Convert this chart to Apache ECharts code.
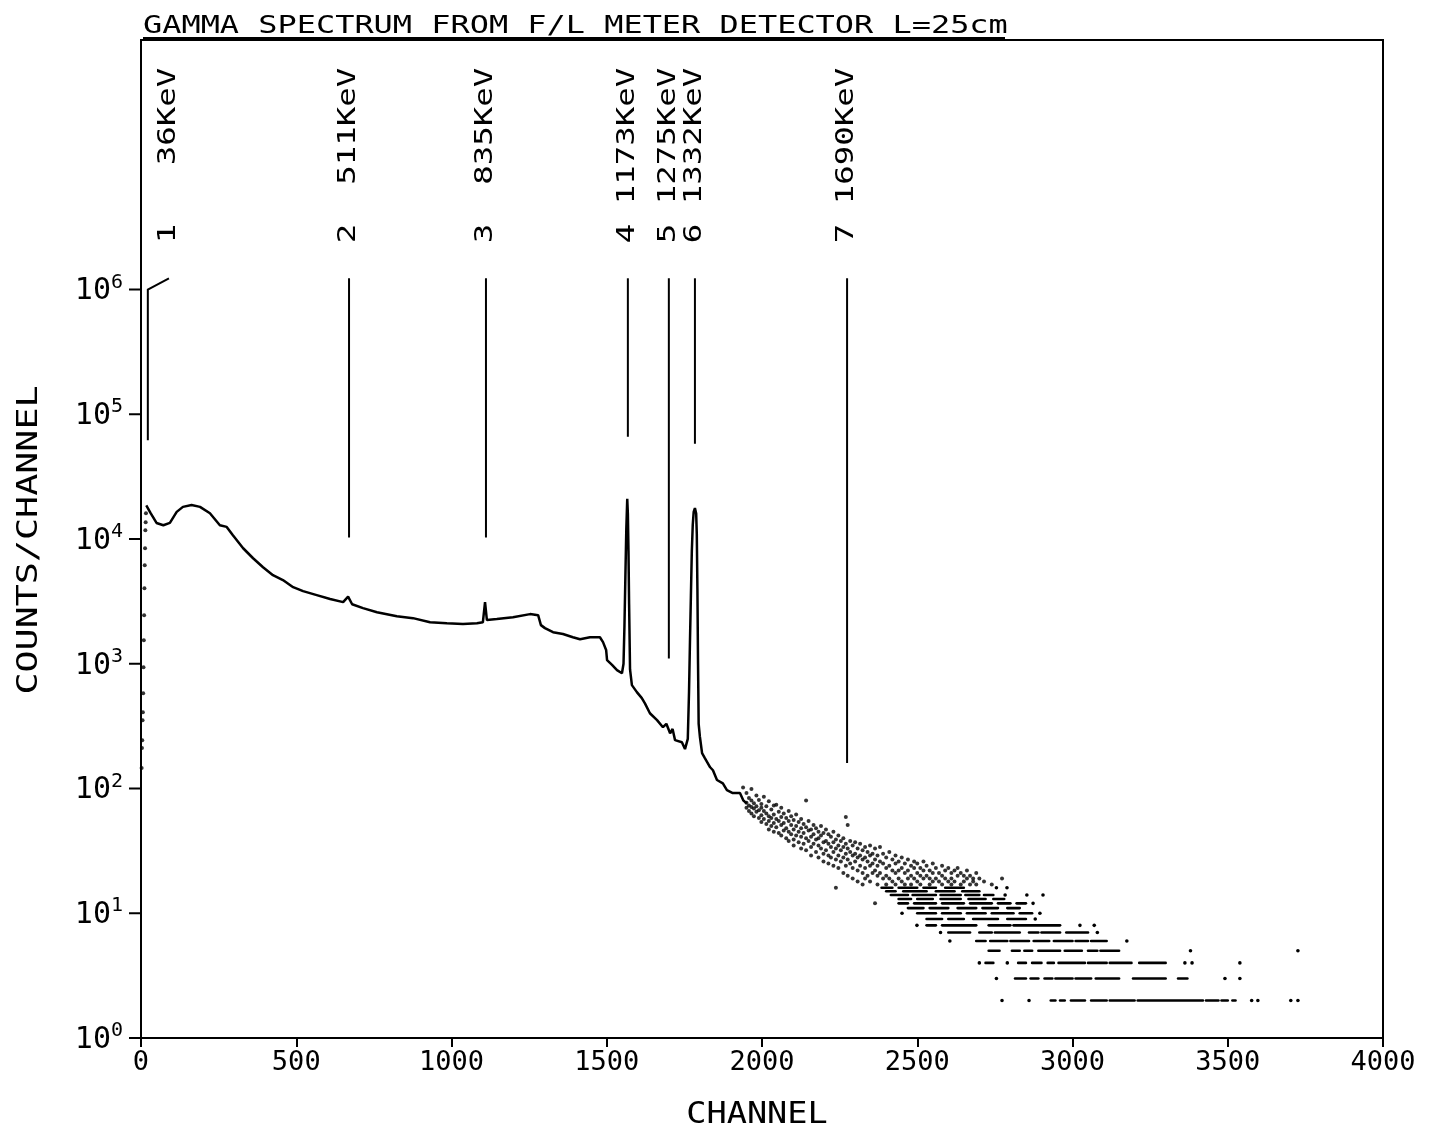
<!DOCTYPE html>
<html>
<head>
<meta charset="utf-8">
<title>Gamma spectrum</title>
<script src="https://cdn.jsdelivr.net/npm/echarts@6.0.0/dist/echarts.min.js"></script>
<style>
  html, body { margin: 0; padding: 0; background: #fff; }
  #chart { width: 1433px; height: 1145px; }
</style>
</head>
<body>
<div id="chart"></div>
<script>
// continuous part of the spectrum (channel, counts)
const curveChannels = [17, 31, 50, 72, 93, 115, 135, 163, 190, 222, 254, 276, 296, 329, 361, 393, 425, 457, 490, 522,
  566, 609, 651, 667, 680, 715, 760, 824, 876, 931, 985, 1037, 1082, 1101, 1108, 1114, 1146, 1198, 1253, 1279,
  1288, 1301, 1327, 1359, 1391, 1414, 1446, 1478, 1488, 1498, 1501, 1517, 1533, 1549, 1554, 1557, 1560, 1563, 1566, 1568,
  1570, 1572, 1575, 1581, 1597, 1613, 1623, 1639, 1662, 1681, 1692, 1704, 1712, 1720, 1742, 1752, 1761, 1765, 1768, 1771,
  1774, 1777, 1780, 1784, 1788, 1790, 1792, 1794, 1796, 1800, 1807, 1816, 1833, 1842, 1855, 1874, 1887, 1906, 1929, 1940, 1951];
const curveCounts = [18600, 16100, 13450, 12900, 13450, 16500, 18100, 18700, 18100, 16100, 12900, 12500, 10700, 8430, 7010, 5940, 5130, 4690, 4110, 3820,
  3550, 3300, 3120, 3450, 3000, 2790, 2590, 2400, 2320, 2150, 2110, 2080, 2110, 2150, 3120, 2240, 2280, 2360, 2500, 2450,
  2040, 1930, 1790, 1730, 1630, 1570, 1630, 1630, 1490, 1290, 1070, 980, 889, 840, 1000, 2000, 5000, 12000, 21000, 16000,
  8000, 3000, 900, 674, 592, 530, 481, 401, 353, 310, 330, 277, 300, 244, 235, 207, 250, 600, 1500, 3500,
  8000, 13000, 16500, 17700, 16000, 11000, 4000, 1000, 330, 260, 192, 175, 148, 140, 117, 110, 97, 92, 92, 80, 76];

// first channels, plotted as separate dots along the axis
const lowChannels = [2, 3, 4, 5, 6, 7, 8, 9, 10, 11, 12, 13, 14, 15, 16];
const lowCounts = [146, 211, 244, 353, 409, 581, 939, 1545, 2450, 4030, 6170, 8430, 11750, 13650, 16100];

// scattered tail, upper band (channel, counts)
const tailDots = [
  [1939, 102], [1950, 92], [1950, 77], [1950, 70], [1958, 84], [1958, 73], [1958, 66], [1966, 99], [1966, 80], [1966, 71],
  [1966, 63], [1974, 76], [1974, 69], [1974, 60], [1982, 88], [1982, 72], [1982, 65], [1990, 81], [1990, 67], [1990, 58],
  [1998, 75], [1998, 70], [1998, 61], [1998, 54], [2006, 86], [2006, 66], [2006, 57], [2014, 72], [2014, 63], [2014, 52],
  [2022, 79], [2022, 60], [2022, 55], [2022, 47], [2030, 68], [2030, 58], [2030, 50], [2038, 73], [2038, 62], [2038, 53],
  [2038, 45], [2046, 74], [2046, 57], [2046, 49], [2054, 65], [2054, 55], [2054, 44], [2062, 70], [2062, 59], [2062, 51],
  [2062, 42], [2070, 63], [2070, 53], [2070, 46], [2078, 58], [2078, 48], [2078, 40], [2086, 66], [2086, 55], [2086, 45],
  [2086, 38], [2094, 60], [2094, 51], [2094, 43], [2102, 56], [2102, 47], [2102, 39], [2102, 35], [2110, 62], [2110, 50],
  [2110, 42], [2118, 54], [2118, 45], [2118, 37], [2126, 57], [2126, 48], [2126, 41], [2126, 33], [2134, 52], [2134, 44],
  [2134, 36], [2142, 80], [2142, 49], [2142, 40], [2142, 32], [2150, 55], [2150, 46], [2150, 38], [2158, 47], [2158, 41],
  [2158, 34], [2158, 29], [2166, 51], [2166, 43], [2166, 36], [2174, 48], [2174, 39], [2174, 31], [2182, 45], [2182, 40],
  [2182, 35], [2182, 28], [2190, 50], [2190, 42], [2190, 33], [2198, 44], [2198, 37], [2198, 30], [2198, 26], [2206, 47],
  [2206, 38], [2206, 32], [2214, 43], [2214, 36], [2214, 29], [2214, 25], [2222, 41], [2222, 34], [2222, 28], [2230, 45],
  [2230, 37], [2230, 31], [2230, 24], [2238, 39], [2238, 33], [2238, 27], [2238, 16], [2246, 42], [2246, 35], [2246, 29],
  [2246, 23], [2254, 38], [2254, 32], [2254, 26], [2262, 40], [2262, 34], [2262, 28], [2262, 21], [2270, 59], [2270, 36],
  [2270, 30], [2270, 24], [2276, 51], [2276, 33], [2276, 27], [2276, 20], [2284, 38], [2284, 31], [2284, 25], [2292, 35],
  [2292, 29], [2292, 23], [2292, 19], [2300, 37], [2300, 30], [2300, 26], [2308, 33], [2308, 28], [2308, 22], [2308, 18],
  [2316, 36], [2316, 29], [2316, 24], [2324, 32], [2324, 27], [2324, 21], [2324, 17], [2332, 34], [2332, 28], [2332, 23],
  [2332, 19], [2340, 31], [2340, 26], [2340, 20], [2348, 35], [2348, 29], [2348, 24], [2348, 18], [2356, 30], [2356, 25],
  [2356, 21], [2364, 33], [2364, 27], [2364, 22], [2364, 12], [2372, 29], [2372, 24], [2372, 20], [2372, 17], [2380, 34],
  [2380, 26], [2380, 21], [2390, 30], [2390, 25], [2390, 19], [2400, 28], [2400, 23], [2400, 20], [2400, 17], [2410, 31],
  [2410, 24], [2410, 19], [2420, 27], [2420, 22], [2420, 18], [2430, 29], [2430, 25], [2430, 21], [2430, 17], [2440, 26],
  [2440, 22], [2440, 19], [2450, 28], [2450, 23], [2450, 18], [2460, 25], [2460, 21], [2460, 17], [2470, 27], [2470, 22],
  [2470, 19], [2480, 24], [2480, 20], [2480, 17], [2490, 26], [2490, 23], [2490, 19], [2500, 25], [2500, 21], [2500, 18],
  [2510, 23], [2510, 20], [2510, 17], [2520, 26], [2520, 22], [2520, 19], [2530, 24], [2530, 20], [2540, 22], [2540, 19],
  [2540, 17], [2550, 25], [2550, 21], [2550, 18], [2560, 23], [2560, 19], [2570, 21], [2570, 18], [2580, 24], [2580, 20],
  [2580, 17], [2590, 22], [2590, 19], [2600, 23], [2600, 18], [2610, 21], [2610, 19], [2610, 17], [2620, 22], [2620, 18],
  [2630, 23], [2630, 20], [2640, 21], [2640, 17], [2650, 20], [2650, 18], [2660, 22], [2660, 19], [2670, 20], [2670, 17],
  [2680, 19], [2680, 18], [2690, 21], [2690, 17], [2700, 19], [2715, 18], [2740, 17], [2773, 19]
];

// scattered tail, low counts: runs of channels sharing one count [first channel, last channel, counts]
const tailRuns = [
  [2385, 2420, 16], [2440, 2500, 16], [2520, 2560, 16], [2590, 2650, 16], [2755, 2755, 16], [2789, 2789, 16],
  [2400, 2430, 15], [2455, 2530, 15], [2560, 2620, 15], [2645, 2700, 15],
  [2415, 2470, 14], [2485, 2560, 14], [2575, 2640, 14], [2655, 2700, 14], [2715, 2745, 14], [2783, 2783, 14], [2853, 2853, 14], [2905, 2905, 14],
  [2440, 2480, 13], [2500, 2550, 13], [2575, 2640, 13], [2665, 2720, 13], [2745, 2780, 13],
  [2440, 2470, 12], [2490, 2560, 12], [2580, 2650, 12], [2670, 2740, 12], [2760, 2800, 12], [2820, 2850, 12], [2873, 2873, 12],
  [2470, 2520, 11], [2540, 2600, 11], [2630, 2690, 11], [2710, 2760, 11], [2790, 2830, 11],
  [2451, 2451, 10], [2500, 2560, 10], [2580, 2640, 10], [2660, 2720, 10], [2740, 2810, 10], [2830, 2870, 10], [2895, 2895, 10],
  [2530, 2580, 9], [2600, 2650, 9], [2680, 2760, 9], [2790, 2850, 9], [2880, 2880, 9],
  [2499, 2499, 8], [2530, 2560, 8], [2580, 2690, 8], [2730, 2800, 8], [2810, 2960, 8], [3024, 3024, 8], [3070, 3070, 8],
  [2575, 2575, 7], [2600, 2670, 7], [2700, 2740, 7], [2750, 2830, 7], [2860, 2890, 7], [2900, 2960, 7], [2980, 3050, 7], [3080, 3080, 7],
  [2605, 2605, 6], [2690, 2720, 6], [2735, 2790, 6], [2800, 2860, 6], [2875, 2925, 6], [2940, 3000, 6], [3010, 3050, 6], [3060, 3110, 6], [3175, 3175, 6],
  [2730, 2765, 5], [2805, 2830, 5], [2845, 2870, 5], [2890, 2960, 5], [2975, 3030, 5], [3050, 3080, 5], [3090, 3150, 5], [3380, 3380, 5], [3726, 3726, 5],
  [2700, 2700, 4], [2720, 2745, 4], [2790, 2790, 4], [2825, 2850, 4], [2870, 2900, 4], [2920, 2940, 4], [2955, 3040, 4], [3050, 3110, 4],
  [3120, 3190, 4], [3215, 3300, 4], [3362, 3362, 4], [3385, 3385, 4], [3539, 3539, 4],
  [2755, 2755, 3], [2815, 2850, 3], [2865, 2890, 3], [2910, 2935, 3], [2945, 3000, 3], [3010, 3060, 3], [3075, 3150, 3], [3195, 3300, 3],
  [3340, 3370, 3], [3491, 3491, 3], [3539, 3539, 3],
  [2773, 2773, 2], [2860, 2860, 2], [2930, 2945, 2], [2960, 2975, 2], [2995, 3040, 2], [3060, 3110, 2], [3120, 3200, 2], [3210, 3420, 2],
  [3430, 3470, 2], [3480, 3500, 2], [3515, 3525, 2], [3577, 3577, 2], [3597, 3597, 2], [3703, 3703, 2], [3726, 3726, 2]
];

// peak markers
const markerNumbers = [1, 2, 3, 4, 5, 6, 7];
const markerEnergies = ['36KeV', '511KeV', '835KeV', '1173KeV', '1275KeV', '1332KeV', '1690KeV'];
const markerChannels = [22, 670, 1111, 1568, 1700, 1784, 2274];
const markerLabelChannels = [90, 670, 1111, 1568, 1700, 1784, 2274];
const markerBottoms = [62000, 10300, 10300, 66000, 1100, 58000, 160];
const markerTop = 1230000;
const markerBend = 1000000;

const yTickValues = [1, 10, 100, 1000, 10000, 100000, 1000000];

const mono = '"DejaVu Sans Mono", monospace';
const black = '#000';

let chart = echarts.init(document.getElementById('chart'));

let option = {
  animation: false,
  backgroundColor: '#fff',
  grid: { left: 141, right: 50, top: 40, bottom: 107, show: true, borderColor: black, borderWidth: 2 },
  xAxis: {
    type: 'value', min: 0, max: 4000, interval: 500,
    axisLine: { lineStyle: { color: black, width: 2 } },
    axisTick: { length: 9, lineStyle: { color: black, width: 2 } },
    axisLabel: { color: black, fontFamily: mono, fontSize: 27, margin: 11, formatter: v => String(v) },
    splitLine: { show: false }
  },
  yAxis: {
    type: 'log', logBase: 10, min: 1, max: 1e8,
    axisLine: { lineStyle: { color: black, width: 2 } },
    axisTick: { show: false },
    splitLine: { show: false },
    axisLabel: {
      margin: 18,
      formatter: function (v) {
        let e = Math.round(Math.log10(v));
        if (e > 6) return '';
        return '{b|10}{s|' + e + '}';
      },
      rich: {
        b: { fontFamily: mono, fontSize: 30, lineHeight: 34, color: black, verticalAlign: 'bottom' },
        s: { fontFamily: mono, fontSize: 20, lineHeight: 20, color: black, verticalAlign: 'top' }
      }
    }
  },
  graphic: [
    { type: 'text', x: 143, y: 27, scaleX: 1.33, style: { text: 'GAMMA SPECTRUM FROM F/L METER DETECTOR L=25cm', font: '24px ' + mono, fill: black, verticalAlign: 'middle', align: 'left' } },
    { type: 'line', shape: { x1: 143, y1: 38, x2: 1005, y2: 38 }, style: { stroke: black, lineWidth: 2 } },
    { type: 'text', x: 757, y: 1115, scaleX: 1.12, style: { text: 'CHANNEL', font: '30px ' + mono, fill: black, verticalAlign: 'middle', align: 'center' } },
    { type: 'text', x: 30, y: 540, rotation: Math.PI / 2, scaleX: 1.31, style: { text: 'COUNTS/CHANNEL', font: '28px ' + mono, fill: black, verticalAlign: 'middle', align: 'center' } }
  ],
  series: [
    {
      name: 'spectrum', type: 'line', showSymbol: false, z: 3,
      lineStyle: { color: black, width: 2.5 },
      data: curveChannels.map((c, i) => [c, curveCounts[i]])
    },
    {
      name: 'first channels', type: 'scatter', symbolSize: 4, itemStyle: { color: black },
      data: lowChannels.map((c, i) => [c, lowCounts[i]])
    },
    {
      name: 'tail', type: 'scatter', symbolSize: 4, itemStyle: { color: black },
      data: tailDots
    },
    {
      name: 'tail rows', type: 'custom', clip: false,
      encode: { x: [0, 1], y: 2 },
      data: tailRuns,
      renderItem: function (params, api) {
        let p0 = api.coord([api.value(0), api.value(2)]);
        let p1 = api.coord([api.value(1), api.value(2)]);
        if (p1[0] - p0[0] < 1.5) {
          return { type: 'circle', shape: { cx: p0[0], cy: p0[1], r: 1.8 }, style: { fill: black } };
        }
        return {
          type: 'line',
          shape: { x1: p0[0], y1: p0[1], x2: p1[0], y2: p1[1] },
          style: { stroke: black, lineWidth: 2.6, lineCap: 'round' }
        };
      }
    },
    {
      name: 'markers', type: 'custom', clip: false,
      encode: { x: 0, y: 1 },
      data: markerChannels.map((c, i) => [c, markerBottoms[i], i]),
      renderItem: function (params, api) {
        let i = api.value(2);
        let c = api.value(0);
        let bottom = api.coord([c, api.value(1)]);
        let top = api.coord([markerLabelChannels[i], markerTop]);
        let pts = [bottom];
        if (markerLabelChannels[i] !== c) pts.push(api.coord([c, markerBend]));
        pts.push(top);
        let label = markerNumbers[i] + ' ' + markerEnergies[i].padStart(7, ' ');
        return {
          type: 'group',
          children: [
            { type: 'polyline', shape: { points: pts }, style: { stroke: black, lineWidth: 2, fill: null } },
            {
              type: 'text', x: top[0], y: top[1] - 35, rotation: Math.PI / 2, scaleX: 1.35,
              style: { text: label, fontFamily: mono, fontSize: 24, fill: black, align: 'left', verticalAlign: 'middle' }
            }
          ]
        };
      }
    },
    {
      name: 'y ticks', type: 'custom', clip: false,
      encode: { x: 0, y: 1 },
      data: yTickValues.map(v => [0, v]),
      renderItem: function (params, api) {
        let p = api.coord([0, api.value(1)]);
        return { type: 'line', shape: { x1: p[0] - 12, y1: p[1], x2: p[0], y2: p[1] }, style: { stroke: black, lineWidth: 2 } };
      }
    }
  ]
};

chart.setOption(option);
</script>
</body>
</html>
